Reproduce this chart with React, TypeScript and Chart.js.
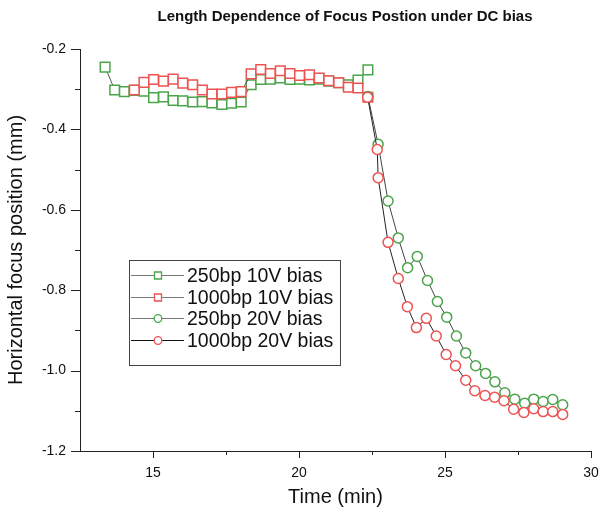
import React, { useEffect, useRef } from "react";
import { Chart, registerables } from "chart.js";

Chart.register(...registerables);

const TITLE = "Length Dependence of Focus Postion under DC bias";
const X_TITLE = "Time (min)";
const Y_TITLE = "Horizontal focus position (mm)";

const seriesLabels = ["250bp 10V bias", "1000bp 10V bias", "250bp 20V bias", "1000bp 20V bias"];

const xTicks = [15, 20, 25, 30];
const yTicks = [-1.2, -1.0, -0.8, -0.6, -0.4, -0.2];

// 10V runs (squares)
const time10V = [13.36, 13.69, 14.02, 14.36, 14.69, 15.02, 15.36, 15.69, 16.02, 16.36, 16.69, 17.02, 17.36, 17.69, 18.02, 18.36, 18.69, 19.02, 19.36, 19.69, 20.02, 20.36, 20.69, 21.02, 21.36, 21.69, 22.02, 22.36];
const bp250V10 = [-0.245, -0.302, -0.306, -0.303, -0.305, -0.321, -0.319, -0.328, -0.329, -0.332, -0.331, -0.334, -0.338, -0.335, -0.332, -0.289, -0.276, -0.275, -0.272, -0.276, -0.275, -0.277, -0.275, -0.280, -0.284, -0.289, -0.277, -0.252];
const bp1000V10 = [null, null, null, -0.302, -0.283, -0.276, -0.280, -0.275, -0.285, -0.289, -0.302, -0.312, -0.312, -0.308, -0.306, -0.262, -0.251, -0.261, -0.254, -0.261, -0.266, -0.264, -0.272, -0.279, -0.284, -0.295, -0.297, -0.320];

// 20V runs (circles)
const time250V20 = [22.36, 22.71, 23.05, 23.40, 23.72, 24.05, 24.40, 24.74, 25.06, 25.39, 25.71, 26.05, 26.39, 26.71, 27.05, 27.39, 27.73, 28.04, 28.36, 28.69, 29.03];
const bp250V20 = [-0.318, -0.437, -0.578, -0.670, -0.744, -0.716, -0.776, -0.828, -0.867, -0.914, -0.956, -0.988, -1.007, -1.028, -1.055, -1.071, -1.081, -1.071, -1.077, -1.072, -1.085];
const time1000V20 = [22.35, 22.68, 22.71, 23.05, 23.40, 23.71, 24.02, 24.36, 24.70, 25.04, 25.36, 25.71, 26.02, 26.37, 26.70, 27.02, 27.35, 27.70, 28.04, 28.36, 28.69, 29.03];
const bp1000V20 = [-0.320, -0.450, -0.520, -0.681, -0.771, -0.841, -0.893, -0.870, -0.914, -0.960, -0.988, -1.024, -1.050, -1.062, -1.066, -1.075, -1.096, -1.104, -1.095, -1.102, -1.102, -1.109];

const GREEN = "#4aa54a";
const RED = "#ee5252";
const FONT = "'Liberation Sans', Arial, sans-serif";

type Pt = { x: number; y: number };
function toPoints(xs: number[], ys: (number | null)[]): Pt[] {
  const out: Pt[] = [];
  xs.forEach((x, i) => {
    const y = ys[i];
    if (y !== null && y !== undefined) out.push({ x, y });
  });
  return out;
}

const legendEntries = [
  { label: seriesLabels[0], color: GREEN, shape: "rect", line: "#777" },
  { label: seriesLabels[1], color: RED, shape: "rect", line: "#777" },
  { label: seriesLabels[2], color: GREEN, shape: "circle", line: "#777" },
  { label: seriesLabels[3], color: RED, shape: "circle", line: "#111" },
];

const decorPlugin = {
  id: "decor",
  afterDraw(chart: any) {
    const ctx: CanvasRenderingContext2D = chart.ctx;
    const xs = chart.scales.x;
    const ys = chart.scales.y;
    const area = chart.chartArea;
    ctx.save();
    // tick marks
    ctx.strokeStyle = "#222";
    ctx.lineWidth = 1;
    for (let k = 1; k <= 7; k++) {
      const v = 12.5 + k * 2.5;
      const px = Math.round(xs.getPixelForValue(v)) + 0.5;
      const major = k % 2 === 1;
      const len = major ? 7 : 4;
      ctx.beginPath();
      ctx.moveTo(px, area.bottom);
      ctx.lineTo(px, area.bottom + len);
      ctx.stroke();
    }
    for (let k = 0; k <= 10; k++) {
      const v = -1.2 + k * 0.1;
      const py = Math.round(ys.getPixelForValue(v)) + 0.5;
      const major = k % 2 === 0;
      const len = major ? 9 : 5;
      ctx.beginPath();
      ctx.moveTo(area.left, py);
      ctx.lineTo(area.left - len, py);
      ctx.stroke();
    }
    // title
    ctx.fillStyle = "#111";
    ctx.font = `bold 15px ${FONT}`;
    ctx.textAlign = "center";
    ctx.textBaseline = "middle";
    ctx.fillText(TITLE, 345, 17);
    // legend
    const bx = 129.5, by = 260.5, bw = 211, bh = 105;
    ctx.fillStyle = "#fff";
    ctx.fillRect(bx, by, bw, bh);
    ctx.strokeStyle = "#444";
    ctx.strokeRect(bx, by, bw, bh);
    ctx.font = `19.5px ${FONT}`;
    ctx.textAlign = "left";
    legendEntries.forEach((e, i) => {
      const y = Math.round(275 + i * 21.7) + 0.5;
      ctx.strokeStyle = e.line;
      ctx.lineWidth = 1;
      ctx.beginPath();
      ctx.moveTo(131, y);
      ctx.lineTo(184, y);
      ctx.stroke();
      ctx.fillStyle = "#fff";
      ctx.strokeStyle = e.color;
      ctx.lineWidth = 1.3;
      ctx.beginPath();
      if (e.shape === "rect") {
        ctx.rect(154.5, y - 3.5, 7, 7);
      } else {
        ctx.arc(158, y, 3.8, 0, Math.PI * 2);
      }
      ctx.fill();
      ctx.stroke();
      ctx.fillStyle = "#111";
      ctx.fillText(e.label, 187, y + 1);
    });
    ctx.restore();
  },
};

export default function App() {
  const ref = useRef<HTMLCanvasElement>(null);
  useEffect(() => {
    const canvas = ref.current;
    if (!canvas) return;
    const common = {
      showLine: true,
      borderWidth: 1,
      pointBackgroundColor: "#ffffff",
      pointBorderWidth: 1.5,
      pointHoverRadius: 0,
      tension: 0,
      fill: false,
    };
    const chart = new Chart(canvas, {
      type: "line",
      data: {
        datasets: [
          { ...common, label: seriesLabels[0], data: toPoints(time10V, bp250V10), borderColor: "#555", pointStyle: "rect", pointRadius: 6.8, pointBorderColor: GREEN, order: 4 },
          { ...common, label: seriesLabels[1], data: toPoints(time10V, bp1000V10), borderColor: "#555", pointStyle: "rect", pointRadius: 6.8, pointBorderColor: RED, order: 3 },
          { ...common, label: seriesLabels[2], data: toPoints(time250V20, bp250V20), borderColor: "#444", pointStyle: "circle", pointRadius: 5, pointBorderColor: GREEN, order: 2 },
          { ...common, label: seriesLabels[3], data: toPoints(time1000V20, bp1000V20), borderColor: "#222", pointStyle: "circle", pointRadius: 5, pointBorderColor: RED, order: 1 },
        ],
      } as any,
      options: {
        responsive: false,
        animation: false,
        devicePixelRatio: 1,
        layout: { padding: { top: 49, right: 10, left: 0, bottom: 0 } },
        plugins: { legend: { display: false }, tooltip: { enabled: false }, title: { display: false } },
        scales: {
          x: {
            type: "linear",
            min: 12.5,
            max: 30,
            afterBuildTicks: (s: any) => { s.ticks = xTicks.map((v) => ({ value: v })); },
            afterFit: (s: any) => { s.height = 66; s.paddingRight = 0; },
            afterUpdate: (s: any) => { s.paddingRight = 0; },
            grid: { display: false, drawTicks: true, tickLength: 7 },
            border: { display: true, color: "#222", width: 1 },
            ticks: { color: "#111", font: { family: FONT, size: 14 }, padding: 7, maxRotation: 0, callback: (v: any) => String(v) },
            title: { display: true, text: X_TITLE, color: "#111", font: { family: FONT, size: 20 }, padding: { top: 4, bottom: 8 } },
          },
          y: {
            type: "linear",
            min: -1.2,
            max: -0.2,
            afterBuildTicks: (s: any) => { s.ticks = yTicks.map((v) => ({ value: v })); },
            afterFit: (s: any) => { s.width = 80; },
            grid: { display: false, drawTicks: true, tickLength: 9 },
            border: { display: true, color: "#222", width: 1 },
            ticks: { color: "#111", font: { family: FONT, size: 14 }, padding: 5, callback: (v: any) => Number(v).toFixed(1) },
            title: { display: true, text: Y_TITLE, color: "#111", font: { family: FONT, size: 20 }, padding: { top: 4, bottom: 4 } },
          },
        },
      } as any,
      plugins: [decorPlugin],
    });
    return () => chart.destroy();
  }, []);
  return (
    <div style={{ position: "fixed", left: 0, top: 0, width: 601, height: 517, background: "#fff" }}>
      <canvas ref={ref} width={601} height={517} style={{ display: "block" }} />
    </div>
  );
}
